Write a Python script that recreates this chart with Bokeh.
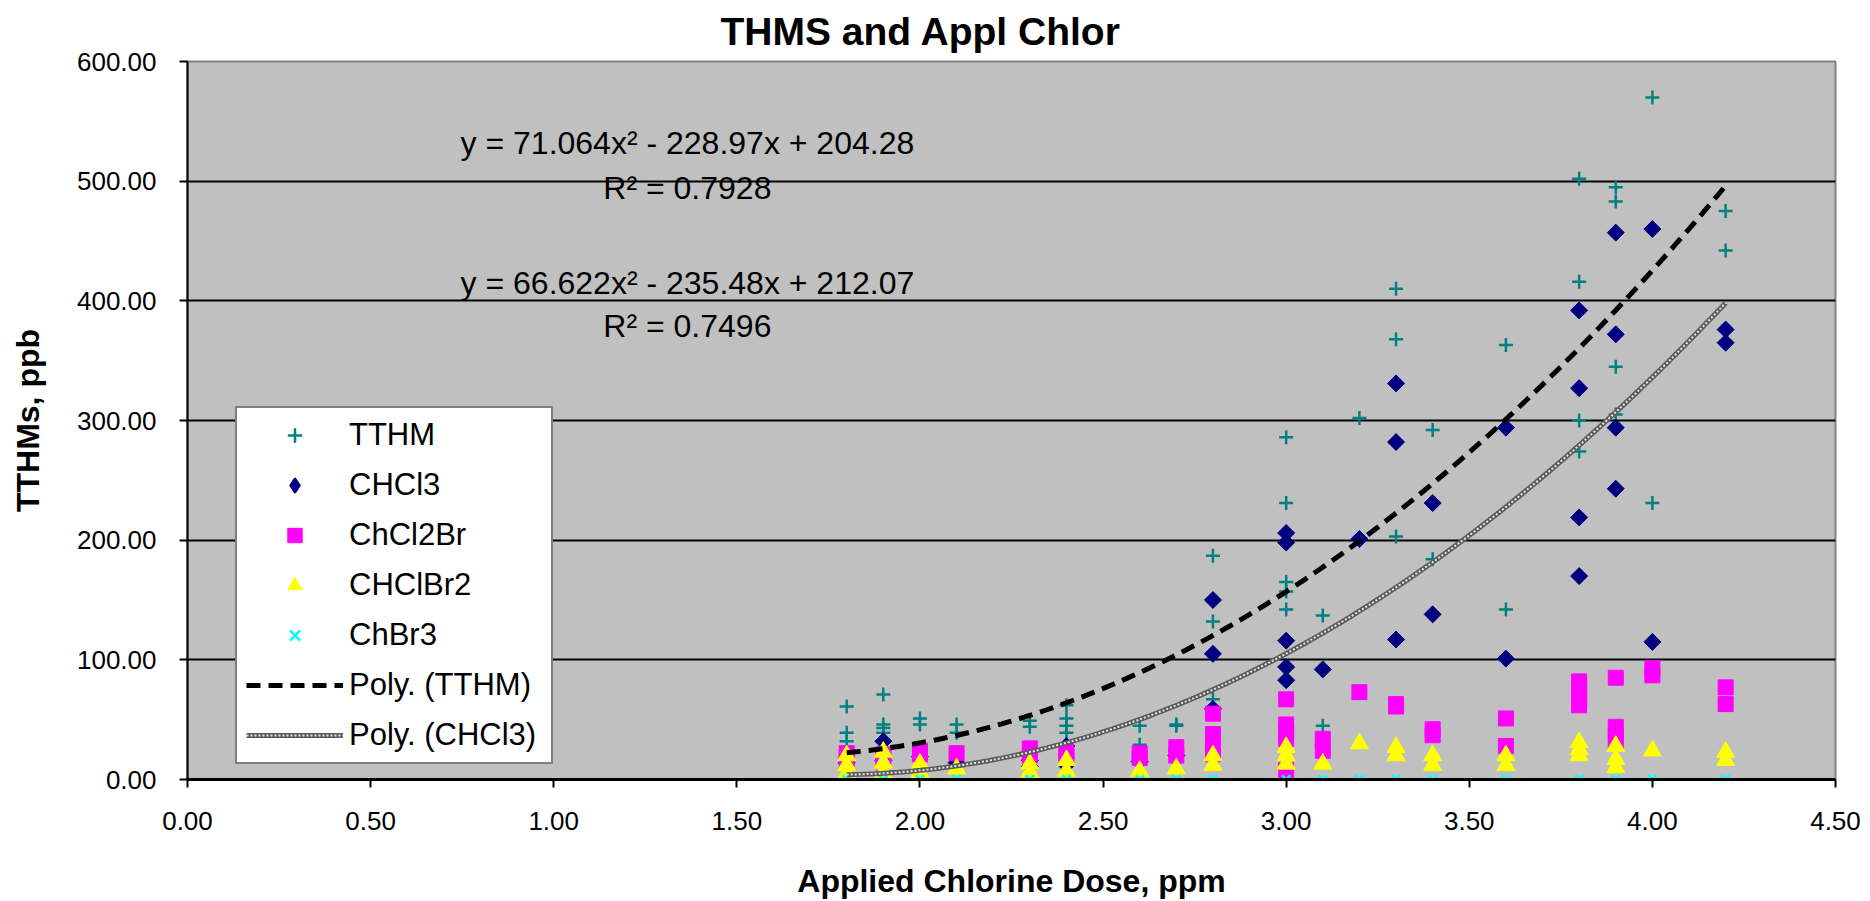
import numpy as np
from bokeh.plotting import figure
from bokeh.models import Range1d, FixedTicker, Label, Legend, LegendItem
from bokeh.embed import file_html
from bokeh.resources import INLINE

# ---------------- data ----------------
x_ticks = [0.0, 0.5, 1.0, 1.5, 2.0, 2.5, 3.0, 3.5, 4.0, 4.5]
x_tick_labels = ["0.00", "0.50", "1.00", "1.50", "2.00", "2.50", "3.00", "3.50", "4.00", "4.50"]
y_ticks = [0, 100, 200, 300, 400, 500, 600]
y_tick_labels = ["0.00", "100.00", "200.00", "300.00", "400.00", "500.00", "600.00"]

tthm_x = [1.8, 1.8, 1.8, 1.9, 1.9, 1.9, 1.9, 2.0, 2.0, 2.1, 2.1, 2.3, 2.3, 2.4, 2.4, 2.4, 2.4,
          2.6, 2.6, 2.7, 2.7, 2.8, 2.8, 2.8, 3.0, 3.0, 3.0, 3.0, 3.0, 3.1, 3.1, 3.2, 3.3, 3.3, 3.3,
          3.4, 3.4, 3.6, 3.6, 3.8, 3.8, 3.8, 3.8, 3.9, 3.9, 3.9, 3.9, 4.0, 4.0, 4.2, 4.2]
tthm_y = [61, 39, 32, 71, 46, 43, 39, 51, 46, 46, 39, 49, 44, 62, 51, 45, 39,
          45, 29, 46, 45, 187, 132, 67, 286, 231, 165, 157, 142, 137, 45, 302, 410, 368, 203,
          292, 184, 363, 142, 502, 416, 300, 274, 495, 483, 345, 305, 570, 231, 475, 442]

chcl3_x = [1.8, 1.9, 1.9, 2.0, 2.1, 2.3, 2.3, 2.4, 2.4, 2.6, 2.7, 2.8, 2.8, 2.8,
           3.0, 3.0, 3.0, 3.0, 3.0, 3.1, 3.2, 3.3, 3.3, 3.3, 3.4, 3.4, 3.6, 3.6,
           3.8, 3.8, 3.8, 3.8, 3.9, 3.9, 3.9, 3.9, 4.0, 4.0, 4.2, 4.2]
chcl3_y = [14, 32, 16, 19, 14, 16, 11, 28, 12, 15, 20, 150, 105, 59,
           206, 198, 116, 94, 83, 92, 201, 331, 282, 117, 231, 138, 294, 101,
           392, 327, 219, 170, 457, 372, 294, 243, 460, 115, 376, 365]

chcl2br_x = [1.8, 1.8, 1.9, 1.9, 1.9, 2.0, 2.0, 2.1, 2.3, 2.3, 2.4, 2.4, 2.6, 2.6, 2.7, 2.7,
             2.8, 2.8, 2.8, 2.8, 3.0, 3.0, 3.0, 3.0, 3.0, 3.1, 3.1, 3.2, 3.3, 3.3, 3.4, 3.4,
             3.6, 3.6, 3.8, 3.8, 3.8, 3.8, 3.8, 3.9, 3.9, 3.9, 3.9, 4.0, 4.0, 4.2, 4.2]
chcl2br_y = [22, 17, 21, 18, 1, 24, 21, 22, 26, 20, 23, 19, 22, 18, 27, 20,
             55, 38, 29, 21, 67, 46, 40, 34, 8, 34, 24, 73, 63, 61, 42, 37,
             51, 28, 82, 77, 72, 67, 62, 85, 44, 37, 31, 93, 87, 77, 63]

chclbr2_x = [1.8, 1.8, 1.8, 1.9, 1.9, 1.9, 2.0, 2.0, 2.1, 2.3, 2.3, 2.4, 2.4, 2.6, 2.7,
             2.8, 2.8, 3.0, 3.0, 3.0, 3.1, 3.2, 3.3, 3.3, 3.4, 3.4, 3.6, 3.6,
             3.8, 3.8, 3.8, 3.9, 3.9, 3.9, 4.0, 4.2, 4.2]
chclbr2_y = [20, 12, 5, 23, 14, 6, 13, 6, 9, 13, 6, 16, 7, 7, 9,
             20, 12, 27, 20, 13, 13, 30, 27, 20, 20, 12, 20, 12,
             31, 25, 20, 28, 17, 10, 24, 23, 16]

chbr3_x = [1.8, 1.9, 2.0, 2.1, 2.3, 2.4, 2.6, 2.7, 2.8, 3.0, 3.1, 3.2, 3.3, 3.4, 3.6, 3.8, 3.9, 4.0, 4.2]
chbr3_y = [0, 0, 0, 0, 0, 0, 0, 0, 0, 0, 0, 0, 0, 0, 0, 0, 0, 0, 0]

# trend-line coefficients and R² as printed on the chart
tthm_fit = [71.064, -228.97, 204.28]
tthm_r2 = "0.7928"
chcl3_fit = [66.622, -235.48, 212.07]
chcl3_r2 = "0.7496"

FONT = "Liberation Sans"

# ---------------- figure ----------------
p = figure(width=1870, height=901, x_range=Range1d(0, 4.5), y_range=Range1d(0, 600),
           output_backend="svg", toolbar_location=None,
           min_border_left=187, min_border_right=35, min_border_top=61, min_border_bottom=121)
p.background_fill_color = "#C0C0C0"
p.border_fill_color = "white"
p.outline_line_color = "#808080"
p.outline_line_width = 2

p.title.text = "THMS and Appl Chlor"
p.title.align = "left"
p.title.offset = 533
p.title.vertical_align = "top"
p.title.standoff = 14
p.title.text_font = FONT
p.title.text_font_size = "39px"
p.title.text_font_style = "bold"
p.title.text_color = "black"

p.xgrid.visible = False
p.ygrid.ticker = FixedTicker(ticks=y_ticks[1:-1])
p.ygrid.grid_line_color = "black"
p.ygrid.grid_line_width = 2

p.xaxis.ticker = FixedTicker(ticks=x_ticks)
p.xaxis.major_label_overrides = {t: l for t, l in zip(x_ticks, x_tick_labels)}
p.yaxis.ticker = FixedTicker(ticks=y_ticks)
p.yaxis.major_label_overrides = {t: l for t, l in zip(y_ticks, y_tick_labels)}

for ax in (p.xaxis[0], p.yaxis[0]):
    ax.axis_line_color = "black"
    ax.major_tick_line_color = "black"
    ax.major_tick_line_width = 2
    ax.major_tick_out = 8
    ax.major_tick_in = 0
    ax.minor_tick_line_color = None
    ax.major_label_text_font = FONT
    ax.major_label_text_font_size = "26px"
    ax.major_label_text_color = "black"
    ax.axis_label_text_font = FONT
    ax.axis_label_text_font_size = "32px"
    ax.axis_label_text_font_style = "bold"
    ax.axis_label_text_color = "black"

p.xaxis.axis_line_width = 3
p.yaxis.axis_line_width = 2
p.xaxis.major_label_standoff = 24
p.yaxis.major_label_standoff = 23
p.xaxis.axis_label = "Applied Chlorine Dose, ppm"
p.yaxis.axis_label = "TTHMs, ppb"
p.xaxis.axis_label_standoff = 30
p.yaxis.axis_label_standoff = 28

# ---------------- scatter series ----------------
r_tthm = p.scatter(tthm_x, tthm_y, marker="cross", size=14, line_color="#008080", line_width=2.5)
# legend swatch for the diamond series (legend markers are drawn unrotated); hidden under the real marks
r_chcl3_key = p.scatter(chcl3_x, chcl3_y, marker="diamond", size=14, fill_color="#000080",
                        line_color="#000080", line_width=2)
r_chcl3 = p.scatter(chcl3_x, chcl3_y, marker="square", angle=np.pi / 4, size=12,
                    fill_color="#000080", line_color="#000080")
r_chcl2br = p.scatter(chcl2br_x, chcl2br_y, marker="square", size=15,
                      fill_color="#FF00FF", line_color="#FF00FF")
r_chclbr2 = p.scatter(chclbr2_x, chclbr2_y, marker="triangle", size=18,
                      fill_color="#FFFF00", line_color="#FFFF00")
r_chbr3 = p.scatter(chbr3_x, chbr3_y, marker="x", size=12, line_color="#00FFFF", line_width=2.5)

# ---------------- polynomial trend lines ----------------
xs = np.linspace(min(tthm_x), max(tthm_x), 120)
r_fit1 = p.line(xs, np.polyval(tthm_fit, xs), line_color="black", line_width=5, line_dash="14 8")
xs2 = np.linspace(min(chcl3_x), max(chcl3_x), 120)
r_fit2a = p.line(xs2, np.polyval(chcl3_fit, xs2), line_color="#5a5a5a", line_width=5)
r_fit2b = p.line(xs2, np.polyval(chcl3_fit, xs2), line_color="#e6e6e6", line_width=2, line_dash="2 2")

# ---------------- equation labels ----------------
def eq_text(c):
    s1 = "-" if c[1] < 0 else "+"
    s2 = "-" if c[2] < 0 else "+"
    return f"y = {c[0]}x\u00b2 {s1} {abs(c[1])}x {s2} {abs(c[2])}"

for txt, yy in [(eq_text(tthm_fit), 532), ("R\u00b2 = " + tthm_r2, 494),
                (eq_text(chcl3_fit), 415), ("R\u00b2 = " + chcl3_r2, 379)]:
    p.add_layout(Label(x=1.365, y=yy, text=txt, text_align="center", text_baseline="middle",
                       text_font=FONT, text_font_size="32px", text_color="black"))

# ---------------- legend ----------------
legend = Legend(items=[
    LegendItem(label="TTHM", renderers=[r_tthm]),
    LegendItem(label="CHCl3", renderers=[r_chcl3_key]),
    LegendItem(label="ChCl2Br", renderers=[r_chcl2br]),
    LegendItem(label="CHClBr2", renderers=[r_chclbr2]),
    LegendItem(label="ChBr3", renderers=[r_chbr3]),
    LegendItem(label="Poly. (TTHM)", renderers=[r_fit1]),
    LegendItem(label="Poly. (CHCl3)", renderers=[r_fit2a, r_fit2b]),
], location=(48, 15))
legend.border_line_color = "black"
legend.border_line_width = 2
legend.background_fill_color = "white"
legend.background_fill_alpha = 1.0
legend.label_text_font = FONT
legend.label_text_font_size = "31px"
legend.label_text_color = "black"
legend.glyph_width = 97
legend.glyph_height = 36
legend.label_height = 36
legend.label_width = 193
legend.spacing = 14
legend.padding = 9
legend.margin = 0
legend.label_standoff = 6
p.add_layout(legend, "center")

open("out.html", "w").write(file_html(p, INLINE))
